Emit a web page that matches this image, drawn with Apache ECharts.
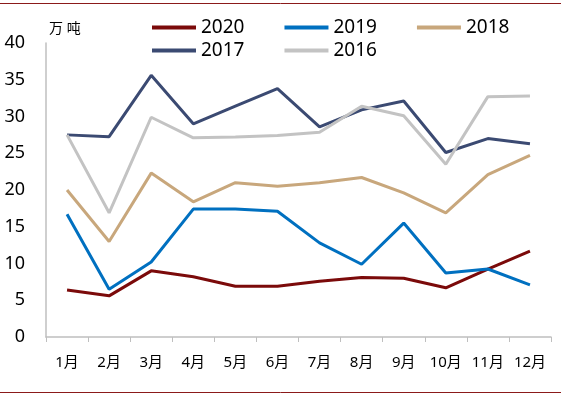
<!DOCTYPE html>
<html>
<head>
<meta charset="utf-8">
<script src="https://cdn.jsdelivr.net/npm/echarts@6/dist/echarts.min.js"></script>
<style>
  html, body { margin: 0; padding: 0; background: #fff; }
  #chart { width: 561px; height: 396px; }
</style>
</head>
<body>
<div id="chart"></div>
<script>
  const months = ['1月', '2月', '3月', '4月', '5月', '6月', '7月', '8月', '9月', '10月', '11月', '12月'];
  const y2020 = [6.4, 5.6, 9.0, 8.2, 6.9, 6.9, 7.6, 8.1, 8.0, 6.7, 9.25, 11.7];
  const y2019 = [16.7, 6.5, 10.2, 17.4, 17.4, 17.1, 12.8, 9.9, 15.5, 8.7, 9.25, 7.1];
  const y2018 = [20.0, 13.0, 22.3, 18.4, 21.0, 20.5, 21.0, 21.7, 19.6, 16.9, 22.1, 24.7];
  const y2017 = [27.5, 27.25, 35.6, 29.0, 31.4, 33.8, 28.6, 30.9, 32.1, 25.1, 27.0, 26.3];
  const y2016 = [27.5, 16.9, 29.9, 27.1, 27.2, 27.4, 27.85, 31.4, 30.1, 23.5, 32.7, 32.8];

  const font = "'Noto Sans', 'Noto Sans CJK SC', sans-serif";

  // 每条线的名字、颜色、数据
  const lines = [
    { name: '2020', color: '#7B0A0A', data: y2020 },
    { name: '2019', color: '#0070C0', data: y2019 },
    { name: '2018', color: '#C8A77C', data: y2018 },
    { name: '2017', color: '#3B4A72', data: y2017 },
    { name: '2016', color: '#C3C3C3', data: y2016 }
  ];

  const legendBase = {
    left: 147,
    itemWidth: 44,
    itemHeight: 4,
    itemGap: 40,
    icon: 'rect',
    textStyle: { fontSize: 19, color: '#000', fontFamily: font }
  };

  const option = {
    animation: false,
    legend: [
      Object.assign({}, legendBase, { top: 13, data: ['2020', '2019', '2018'] }),
      Object.assign({}, legendBase, { top: 36, data: ['2017', '2016'] })
    ],
    grid: { left: 46, right: 10, top: 43, bottom: 59 },
    xAxis: {
      type: 'category',
      data: months,
      boundaryGap: true,
      axisLine: { lineStyle: { color: '#BFBFBF', width: 1.5 } },
      axisTick: { show: true, length: 5, lineStyle: { color: '#BFBFBF' } },
      axisLabel: { color: '#000', fontSize: 15, margin: 18, fontFamily: font }
    },
    yAxis: {
      type: 'value',
      min: 0,
      max: 40,
      interval: 5,
      axisLine: { show: true, lineStyle: { color: '#BFBFBF', width: 1.5 } },
      axisTick: { show: false },
      splitLine: { show: false },
      axisLabel: { color: '#000', fontSize: 18, margin: 21, fontFamily: font }
    },
    graphic: [
      { type: 'text', left: 49, top: 22, style: { text: '万 吨', fontSize: 14, fill: '#000', fontFamily: font } },
      { type: 'line', shape: { x1: 0, y1: 3.5, x2: 561, y2: 3.5 }, style: { stroke: '#8B1A1A', lineWidth: 1 } },
      { type: 'line', shape: { x1: 0, y1: 392.5, x2: 561, y2: 392.5 }, style: { stroke: '#8B1A1A', lineWidth: 1 } }
    ],
    series: lines.map((l) => ({
      name: l.name,
      type: 'line',
      data: l.data,
      symbol: 'none',
      lineStyle: { color: l.color, width: 3 },
      itemStyle: { color: l.color }
    }))
  };

  const myChart = echarts.init(document.getElementById('chart'));
  myChart.setOption(option);
</script>
</body>
</html>
